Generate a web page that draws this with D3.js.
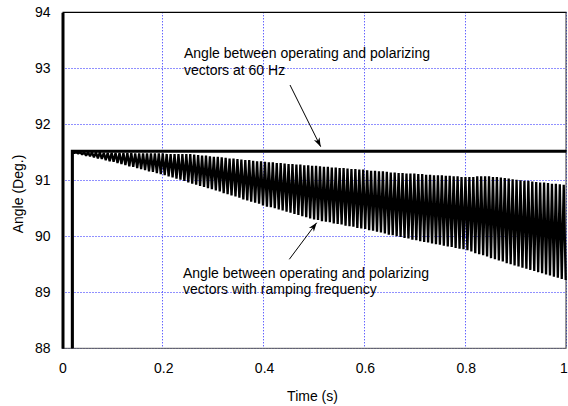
<!DOCTYPE html>
<html><head><meta charset="utf-8">
<script src="https://cdnjs.cloudflare.com/ajax/libs/d3/7.8.5/d3.min.js"></script>
<style>
html,body{margin:0;padding:0;background:#fff;}
svg{display:block;}
text{font-family:"Liberation Sans",Arial,sans-serif;fill:#000;}
</style></head>
<body>
<script>
// ---- data ----
const timeTicks = [0, 0.2, 0.4, 0.6, 0.8, 1];
const timeTickLabels = ["0", "0.2", "0.4", "0.6", "0.8", "1"];
const angleTicks = [88, 89, 90, 91, 92, 93, 94];
const angleTickLabels = ["88", "89", "90", "91", "92", "93", "94"];

// angle at 60 Hz (step at t = 0.02 s)
const fixedTime = [0.0195, 0.0195, 1.0];
const fixedAngle = [88, 91.52, 91.52];

// angle with ramping frequency: one peak and one trough per oscillation cycle
const rampStart = 0.0195;
const rampPeriod = 0.0078;
const rampPeaks = [
 91.50,91.50,91.50,91.50,91.50,91.50,91.50,91.50,91.49,91.49,
 91.49,91.49,91.49,91.49,91.49,91.49,91.48,91.48,91.48,91.48,
 91.48,91.48,91.48,91.48,91.47,91.47,91.47,91.47,91.47,91.47,
 91.47,91.46,91.45,91.44,91.44,91.43,91.42,91.42,91.41,91.40,
 91.39,91.39,91.38,91.37,91.36,91.36,91.35,91.34,91.34,91.33,
 91.32,91.32,91.31,91.31,91.30,91.29,91.29,91.28,91.28,91.27,
 91.27,91.26,91.26,91.25,91.24,91.24,91.23,91.23,91.22,91.22,
 91.21,91.20,91.20,91.19,91.19,91.18,91.17,91.17,91.16,91.16,
 91.15,91.14,91.14,91.13,91.13,91.12,91.12,91.12,91.11,91.11,
 91.10,91.10,91.09,91.09,91.09,91.08,91.08,91.07,91.07,91.06,
 91.06,91.06,91.06,91.07,91.07,91.07,91.07,91.06,91.06,91.05,
 91.04,91.03,91.02,91.01,91.00,90.99,90.99,90.98,90.97,90.96,
 90.96,90.95,90.94,90.94,90.93,90.92
];
const rampTroughs = [
 91.49,91.48,91.46,91.44,91.43,91.41,91.39,91.38,91.36,91.34,
 91.33,91.31,91.29,91.27,91.25,91.24,91.22,91.20,91.18,91.16,
 91.15,91.13,91.11,91.09,91.07,91.05,91.03,91.01,90.99,90.96,
 90.94,90.92,90.90,90.88,90.86,90.84,90.82,90.80,90.77,90.75,
 90.73,90.71,90.69,90.66,90.64,90.62,90.60,90.58,90.55,90.53,
 90.52,90.50,90.48,90.46,90.44,90.42,90.40,90.38,90.36,90.34,
 90.32,90.30,90.29,90.27,90.26,90.25,90.23,90.22,90.21,90.19,
 90.18,90.17,90.15,90.14,90.13,90.11,90.10,90.08,90.07,90.05,
 90.03,90.02,90.00,89.99,89.97,89.96,89.94,89.93,89.91,89.90,
 89.89,89.87,89.86,89.85,89.83,89.82,89.81,89.79,89.78,89.77,
 89.75,89.73,89.70,89.68,89.66,89.64,89.61,89.59,89.57,89.55,
 89.52,89.50,89.48,89.46,89.44,89.42,89.40,89.38,89.36,89.34,
 89.32,89.30,89.28,89.26,89.24,89.22
];

const annotTop = ["Angle between operating and polarizing", "vectors at 60 Hz"];
const annotBottom = ["Angle between operating and polarizing", "vectors with ramping frequency"];
const xTitle = "Time (s)";
const yTitle = "Angle (Deg.)";

// ---- layout ----
const W = 568, H = 406;
const L = 62.5, R = 566.5, T = 12.3, B = 348.3;
const x = d3.scaleLinear().domain([0, 1]).range([L, R]);
const y = d3.scaleLinear().domain([88, 94]).range([B, T]);
const FS = 14;

const svg = d3.select("body").append("svg").attr("width", W).attr("height", H);

svg.append("defs").append("marker")
  .attr("id", "ah").attr("viewBox", "0 0 10 10").attr("refX", 10).attr("refY", 5)
  .attr("markerWidth", 9).attr("markerHeight", 9).attr("markerUnits", "userSpaceOnUse")
  .attr("orient", "auto")
  .append("path").attr("d", "M0,1.5 L10,5 L0,8.5 L3,5 Z").attr("fill", "#000");

// grid
const grid = svg.append("g").attr("stroke", "#2020ff").attr("stroke-width", 1)
  .attr("stroke-dasharray", "1,2").attr("fill", "none");
grid.selectAll("line.h").data(angleTicks.slice(0, -1)).join("line").attr("class", "h")
  .attr("x1", L).attr("x2", R).attr("y1", d => Math.round(y(d)) + 0.5).attr("y2", d => Math.round(y(d)) + 0.5);
grid.selectAll("line.v").data(timeTicks.slice(1)).join("line").attr("class", "v")
  .attr("y1", T).attr("y2", B).attr("x1", d => Math.round(x(d)) - 0.5).attr("x2", d => Math.round(x(d)) - 0.5);

// frame
svg.append("line").attr("x1", L).attr("x2", R).attr("y1", T).attr("y2", T).attr("stroke", "#000").attr("stroke-width", 1.3);
svg.append("line").attr("x1", L).attr("x2", R).attr("y1", B).attr("y2", B).attr("stroke", "#555").attr("stroke-width", 1);
svg.append("line").attr("x1", R - 0.5).attr("x2", R - 0.5).attr("y1", T).attr("y2", B).attr("stroke", "#333").attr("stroke-width", 1);

// axes
const yAxis = d3.axisLeft(y).tickValues(angleTicks).tickFormat((d, i) => angleTickLabels[i]).tickSize(0).tickPadding(12);
const gy = svg.append("g").attr("transform", `translate(${L},0)`).call(yAxis);
gy.select(".domain").attr("stroke", "#000").attr("stroke-width", 3);
gy.selectAll("text").attr("font-size", FS).attr("font-family", "Liberation Sans, Arial, sans-serif").attr("fill", "#000");

const xAxis = d3.axisBottom(x).tickValues(timeTicks).tickFormat((d, i) => timeTickLabels[i]).tickSize(0).tickPadding(15);
const gx = svg.append("g").attr("transform", `translate(0,${B})`).call(xAxis);
gx.select(".domain").remove();
gx.selectAll("text").attr("font-size", FS).attr("font-family", "Liberation Sans, Arial, sans-serif").attr("fill", "#000")
  .attr("dx", (d, i) => i === timeTicks.length - 1 ? -3 : 0);

// titles
svg.append("text").attr("x", x(0.5) - 2).attr("y", 401).attr("text-anchor", "middle").attr("font-size", FS).text(xTitle);
svg.append("text").attr("transform", "translate(22.5,194) rotate(-90)").attr("text-anchor", "middle").attr("font-size", FS).text(yTitle);

// series
const line = d3.line().x(d => x(d[0])).y(d => y(d[1]));
const fixedPts = fixedTime.map((t, i) => [t, fixedAngle[i]]);

const rampPts = [[rampStart, 88]];
rampPeaks.forEach((p, k) => {
  const t = rampStart + k * rampPeriod;
  rampPts.push([t, p]);
  rampPts.push([t + rampPeriod / 2, rampTroughs[k]]);
});

const plot = svg.append("g");
plot.append("path").attr("d", line(fixedPts)).attr("fill", "none").attr("stroke", "#000").attr("stroke-width", 3);
plot.append("path").attr("d", line(rampPts)).attr("fill", "none").attr("stroke", "#000").attr("stroke-width", 2.3).attr("stroke-linejoin", "bevel");

// annotations
function block(lines, x0, y0, dy) {
  const t = svg.append("text").attr("font-size", FS);
  lines.forEach((s, i) => t.append("tspan").attr("x", x0).attr("y", y0 + i * dy).text(s));
}
block(annotTop, 184, 58.3, 16.7);
block(annotBottom, 183, 278.3, 16);

svg.append("line").attr("x1", 290).attr("y1", 85).attr("x2", 320.7).attr("y2", 146.7)
  .attr("stroke", "#000").attr("stroke-width", 1).attr("marker-end", "url(#ah)");
svg.append("line").attr("x1", 289.3).attr("y1", 259.3).attr("x2", 316.7).attr("y2", 222.7)
  .attr("stroke", "#000").attr("stroke-width", 1).attr("marker-end", "url(#ah)");
</script>
</body></html>
